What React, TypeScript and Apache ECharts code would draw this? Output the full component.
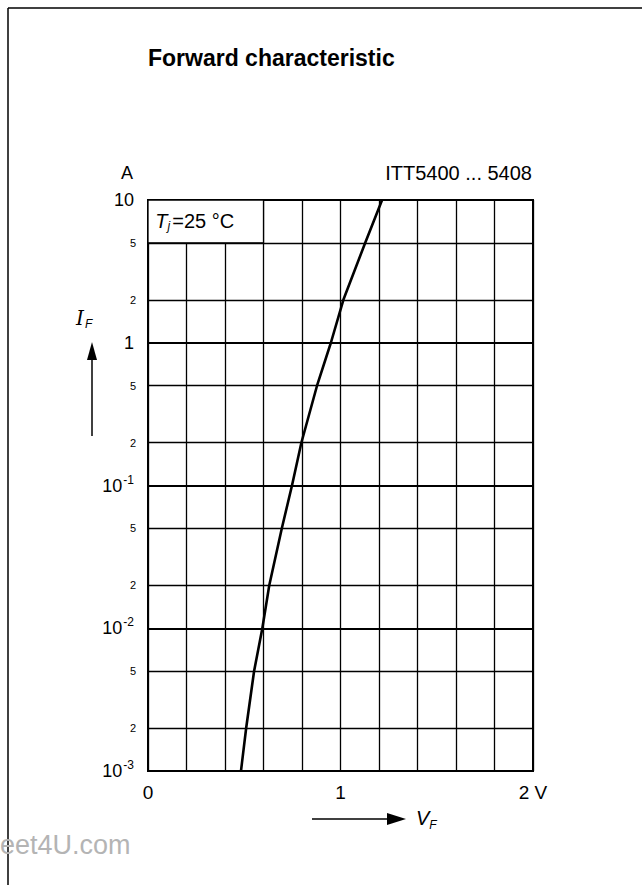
import React, { useEffect, useRef } from "react";
import * as echarts from "echarts";

const curveVF = [0.483, 0.51, 0.551, 0.594, 0.63, 0.695, 0.748, 0.797, 0.878, 0.95, 1.015, 1.128, 1.216];
const curveIF = [0.001, 0.002, 0.005, 0.01, 0.02, 0.05, 0.1, 0.2, 0.5, 1, 2, 5, 10];
const minorValues = [0.002, 0.005, 0.02, 0.05, 0.2, 0.5, 2, 5];
const minorLabels = ["2", "5", "2", "5", "2", "5", "2", "5"];
const xTickLabels: Record<string, string> = { "0": "0", "1": "1", "2": "2 V" };

const FONT = "'Liberation Sans', Arial, Helvetica, sans-serif";

export default function App() {
  const ref = useRef<HTMLDivElement>(null);
  useEffect(() => {
    if (!ref.current) return;
    const chart = echarts.init(ref.current, undefined, { renderer: "svg" });
    const option: any = {
      animation: false,
      backgroundColor: "#fff",
      textStyle: { fontFamily: FONT, color: "#000" },
      grid: {
        left: 148,
        top: 200,
        width: 385,
        height: 571,
        show: true,
        borderColor: "#000",
        borderWidth: 2,
        backgroundColor: "transparent",
      },
      xAxis: {
        type: "value",
        min: 0,
        max: 2,
        interval: 0.2,
        axisLine: { show: false },
        axisTick: { show: false },
        splitLine: { show: true, lineStyle: { color: "#000", width: 1.3 } },
        axisLabel: {
          color: "#000",
          fontSize: 19,
          fontFamily: FONT,
          margin: 12,
          formatter: (v: number) => {
            const k = String(Math.round(v * 10) / 10);
            return xTickLabels[k] ?? "";
          },
        },
      },
      yAxis: {
        type: "log",
        logBase: 10,
        min: 0.001,
        max: 10,
        axisLine: { show: false },
        axisTick: { show: false },
        splitLine: { show: true, lineStyle: { color: "#000", width: 2 } },
        axisLabel: {
          color: "#000",
          margin: 14,
          fontFamily: FONT,
          formatter: (v: number) => {
            const e = Math.round(Math.log10(v));
            if (e === 1) return "{n|10}";
            if (e === 0) return "{n|1}";
            return "{n|10}{s|" + "-" + String(-e) + "}";
          },
          rich: {
            n: { fontSize: 18, fontFamily: FONT, color: "#000" },
            s: { fontSize: 12, fontFamily: FONT, color: "#000", padding: [0, 0, 12, 1] },
          },
        },
      },
      series: [
        {
          type: "line",
          data: curveVF.map((v, i) => [v, curveIF[i]]),
          smooth: false,
          showSymbol: false,
          symbol: "none",
          lineStyle: { color: "#000", width: 2.6, join: "round" },
          z: 5,
          markArea: {
            silent: true,
            itemStyle: { color: "#fff", borderColor: "#000", borderWidth: 1.3 },
            label: {
              show: true,
              position: "insideLeft",
              distance: 8,
              formatter: "{t|T}{j|j}{n|=25 °C}",
              rich: {
                t: { fontSize: 20, fontStyle: "italic", fontFamily: FONT, color: "#000" },
                j: { fontSize: 12, fontStyle: "italic", fontFamily: FONT, color: "#000", padding: [10, 2, 0, 0] },
                n: { fontSize: 20, fontFamily: FONT, color: "#000" },
              },
            },
            data: [[{ xAxis: 0, yAxis: 5 }, { xAxis: 0.6, yAxis: 10 }]],
          },
          markLine: {
            silent: true,
            precision: 6,
            symbol: ["none", "none"],
            lineStyle: { color: "#000", width: 1.3, type: "solid" },
            label: { show: true, position: "start", distance: 12, fontSize: 11, color: "#000", fontFamily: FONT },
            data: minorValues.map((v, i) => ({ yAxis: v, label: { formatter: minorLabels[i] } })),
          },
        },
      ],
      graphic: [
        { type: "line", shape: { x1: 8, y1: 8, x2: 642, y2: 8 }, style: { stroke: "#000", lineWidth: 1.5 } },
        { type: "line", shape: { x1: 8, y1: 8, x2: 8, y2: 885 }, style: { stroke: "#000", lineWidth: 1.5 } },
        {
          type: "text",
          x: 148,
          y: 58,
          style: { text: "Forward characteristic", fontSize: 23, fontWeight: "bold", fontFamily: FONT, fill: "#000", verticalAlign: "middle" },
        },
        {
          type: "text",
          x: 127,
          y: 173,
          style: { text: "A", fontSize: 18, fontFamily: FONT, fill: "#000", align: "center", verticalAlign: "middle" },
        },
        {
          type: "text",
          x: 532,
          y: 173,
          style: { text: "ITT5400 ... 5408", fontSize: 20, fontFamily: FONT, fill: "#000", align: "right", verticalAlign: "middle" },
        },
        {
          type: "text",
          x: 76,
          y: 318,
          style: {
            text: "{i|I}{s|F}",
            fontFamily: FONT,
            fill: "#000",
            verticalAlign: "middle",
            rich: {
              i: { fontSize: 20, fontStyle: "italic", fontFamily: "'DejaVu Serif', serif", fill: "#000" },
              s: { fontSize: 12, fontStyle: "italic", fontFamily: FONT, fill: "#000", padding: [12, 0, 0, 1] },
            },
          },
        },
        { type: "line", shape: { x1: 92, y1: 436, x2: 92, y2: 356 }, style: { stroke: "#000", lineWidth: 1.5 } },
        { type: "polygon", shape: { points: [[92, 342], [87, 360], [97, 360]] }, style: { fill: "#000" } },
        {
          type: "text",
          x: 416,
          y: 818,
          style: {
            text: "{i|V}{s|F}",
            fontFamily: FONT,
            fill: "#000",
            verticalAlign: "middle",
            rich: {
              i: { fontSize: 20, fontStyle: "italic", fontFamily: FONT, fill: "#000" },
              s: { fontSize: 12, fontStyle: "italic", fontFamily: FONT, fill: "#000", padding: [14, 0, 0, 0] },
            },
          },
        },
        { type: "line", shape: { x1: 312, y1: 819, x2: 390, y2: 819 }, style: { stroke: "#000", lineWidth: 1.5 } },
        { type: "polygon", shape: { points: [[406, 819], [387, 813], [387, 825]] }, style: { fill: "#000" } },
        {
          type: "text",
          x: 0,
          y: 845,
          style: { text: "eet4U.com", fontSize: 27, fontFamily: FONT, fill: "#b4b4b4", verticalAlign: "middle" },
        },
      ],
    };
    chart.setOption(option);
    return () => chart.dispose();
  }, []);
  return <div ref={ref} style={{ position: "absolute", left: 0, top: 0, width: 642, height: 885 }} />;
}
